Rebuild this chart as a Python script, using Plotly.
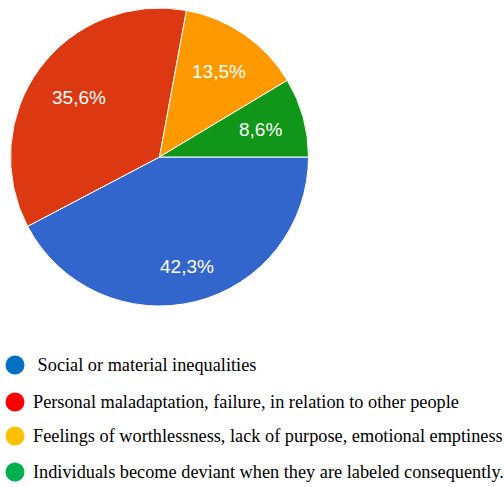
import math
import plotly.graph_objects as go

# data
categories = [
    " Social or material inequalities",
    "Personal maladaptation, failure, in relation to other people",
    "Feelings of worthlessness, lack of purpose, emotional emptiness",
    "Individuals become deviant when they are labeled consequently.",
]
shares = [42.3, 35.6, 13.5, 8.6]
slice_colors = ["#3366CC", "#DC3912", "#FF9900", "#109618"]
legend_colors = ["#0070C0", "#FF0000", "#FFC000", "#00B050"]
legend_rows = [365, 402, 436, 472]

labels = [f"{v:.1f}%".replace(".", ",") for v in shares]

W, H = 504, 487
cx, cy, r = 159.5, 157, 149
label_r = [0.76, 0.67, 0.70, 0.70]

fig = go.Figure()

fig.add_trace(go.Pie(
    values=shares,
    labels=categories,
    textinfo="none",
    sort=False,
    direction="clockwise",
    rotation=90,
    marker=dict(colors=slice_colors, line=dict(color="white", width=1)),
    domain=dict(x=[(cx - r) / W, (cx + r) / W], y=[1 - (cy + r) / H, 1 - (cy - r) / H]),
    showlegend=False,
    hoverinfo="skip",
))

# percentage labels placed at the middle of each slice
total = sum(shares)
start = 90.0
for v, txt, f in zip(shares, labels, label_r):
    sweep = v / total * 360
    mid = math.radians(start + sweep / 2)
    start += sweep
    fig.add_annotation(
        x=cx + f * r * math.sin(mid), y=cy - f * r * math.cos(mid),
        xref="x", yref="y", text=txt, showarrow=False,
        font=dict(family="Liberation Sans, Arial", size=19, color="white"),
    )

# hand-made legend below the pie
fig.add_trace(go.Scatter(
    x=[15] * len(categories),
    y=legend_rows,
    mode="markers",
    marker=dict(size=19, color=legend_colors, symbol="circle"),
    showlegend=False,
    hoverinfo="skip",
))

for name, row in zip(categories, legend_rows):
    fig.add_annotation(
        x=31, y=row, xref="x", yref="y",
        text=name, showarrow=False,
        xanchor="left", yanchor="middle",
        font=dict(family="Liberation Serif, Times New Roman", size=18.3, color="black"),
    )

fig.update_layout(
    width=W, height=H,
    margin=dict(l=0, r=0, t=0, b=0),
    paper_bgcolor="white", plot_bgcolor="white",
    xaxis=dict(range=[0, W], visible=False, domain=[0, 1], fixedrange=True),
    yaxis=dict(range=[H, 0], visible=False, domain=[0, 1], fixedrange=True),
)

fig.write_html("out.html", config={"displayModeBar": False},
               post_script="document.body.style.margin='0';")
